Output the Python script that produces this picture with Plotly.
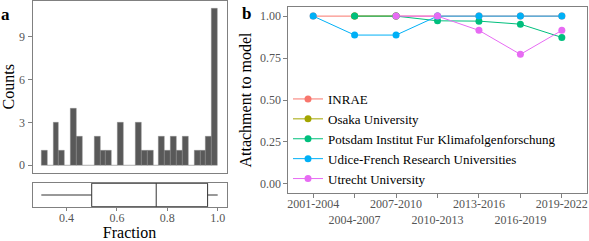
import numpy as np
import plotly.graph_objects as go

# ---------------- data ----------------
bin_start = 0.3
bin_end = 1.0
hist_counts = [1, 0, 3, 1, 0, 4, 2, 0, 0, 2, 1, 1, 0, 3, 0, 0, 3, 1, 1, 0,
               2, 1, 2, 1, 2, 0, 1, 1, 2, 11]
box_lowerfence = [0.30]
box_q1 = [0.50]
box_median = [0.756]
box_q3 = [0.96]
box_upperfence = [1.00]

periods = ["2001-2004", "2004-2007", "2007-2010", "2010-2013",
           "2013-2016", "2016-2019", "2019-2022"]
inrae = [1.0, 1.0, 1.0, 1.0, 1.0, 1.0, 1.0]
osaka = [None, 1.0, 1.0, None, None, None, None]
potsdam = [None, 1.0, 1.0, 0.972, 0.970, 0.952, 0.873]
udice = [1.0, 0.887, 0.887, 1.0, 1.0, 1.0, 1.0]
utrecht = [None, None, 1.0, 1.0, 0.915, 0.772, 0.915]

series = [
    ("INRAE", inrae, "#F8766D"),
    ("Osaka University", osaka, "#A3A500"),
    ("Potsdam Institut Fur Klimafolgenforschung", potsdam, "#00BF7D"),
    ("Udice-French Research Universities", udice, "#00B0F6"),
    ("Utrecht University", utrecht, "#E76BF3"),
]

# ---------------- style ----------------
FONT = "Liberation Serif"
W, H = 589, 241
BORDER = "#808080"
TICKC = "#555555"


def px_x(p):
    return p / W


def px_y(p):
    return 1 - p / H


nb = len(hist_counts)
bw = (bin_end - bin_start) / nb
edges = np.linspace(bin_start, bin_end, nb + 1)
centers = (edges[:-1] + edges[1:]) / 2

fig = go.Figure()

fig.add_trace(go.Bar(
    x=centers, y=hist_counts, width=bw,
    marker=dict(color="#595959", line=dict(width=0.4, color="#8a8a8a")),
    xaxis="x", yaxis="y", showlegend=False))

fig.add_trace(go.Box(
    y=[0], lowerfence=box_lowerfence, q1=box_q1, median=box_median, q3=box_q3,
    upperfence=box_upperfence, orientation="h", width=0.98, whiskerwidth=0,
    fillcolor="white", line=dict(color="#333333", width=1), boxpoints=False,
    xaxis="x2", yaxis="y2", showlegend=False))

for name, vals, col in series:
    fig.add_trace(go.Scatter(
        x=periods, y=vals, name=name, mode="lines+markers",
        line=dict(color=col, width=1), marker=dict(color=col, size=7),
        xaxis="x3", yaxis="y3", connectgaps=False))

axis_common = dict(showline=True, mirror=True, linecolor=BORDER, linewidth=1,
                   showgrid=False, zeroline=False, ticks="outside", ticklen=4,
                   tickcolor=BORDER, automargin=False, tickangle=0,
                   tickfont=dict(family=FONT, size=12, color=TICKC))

xa = [px_x(32.5), px_x(226.5)]
fig.update_layout(
    width=W, height=H, margin=dict(l=0, r=0, t=0, b=0, autoexpand=False),
    paper_bgcolor="white", plot_bgcolor="white",
    bargap=0, font=dict(family=FONT, color="black"),
    xaxis=dict(axis_common, domain=xa, range=[0.265, 1.035], showticklabels=False,
               ticks="", anchor="y"),
    yaxis=dict(axis_common, domain=[px_y(173), px_y(0.5)], range=[-0.55, 11.55],
               tickvals=[0, 3, 6, 9], anchor="x",
               title=dict(text="Counts", font=dict(size=16), standoff=4)),
    xaxis2=dict(axis_common, domain=xa, range=[0.265, 1.035], ticklen=3,
                ticklabelstandoff=-3,
                tickvals=[0.4, 0.6, 0.8, 1.0], tickformat=".1f", anchor="y2",
                title=dict(text="Fraction", font=dict(size=16), standoff=6)),
    yaxis2=dict(axis_common, domain=[px_y(207), px_y(183)], range=[-0.5, 0.5],
                showticklabels=False, ticks="", anchor="x2"),
    xaxis3=dict(axis_common, domain=[px_x(288.3), px_x(586.7)], range=[-0.6, 6.6],
                type="category", tickvals=periods, ticklabelstandoff=-4,
                ticktext=[p if i % 2 == 0 else "<br>" + p for i, p in enumerate(periods)],
                anchor="y3"),
    yaxis3=dict(axis_common, domain=[px_y(192.7), px_y(7.3)], range=[-0.0525, 1.0525],
                tickvals=[0, 0.25, 0.5, 0.75, 1.0], tickformat=".2f", anchor="x3",
                title=dict(text="Attachment to model", font=dict(size=16), standoff=4)),
    legend=dict(x=px_x(288), y=px_y(84), xanchor="left", yanchor="top",
                bgcolor="rgba(0,0,0,0)", font=dict(family=FONT, size=13, color="black"),
                tracegroupgap=0),
    annotations=[
        dict(text="<b>a</b>", x=px_x(5), y=px_y(14), xref="paper", yref="paper",
             xanchor="center", yanchor="middle",
             showarrow=False, font=dict(family=FONT, size=17, color="black")),
        dict(text="<b>b</b>", x=px_x(246), y=px_y(13), xref="paper", yref="paper",
             xanchor="center", yanchor="middle",
             showarrow=False, font=dict(family=FONT, size=17, color="black")),
    ],
)

fig.write_html("out.html", config={"displayModeBar": False},
               post_script="document.body.style.margin='0px';")
